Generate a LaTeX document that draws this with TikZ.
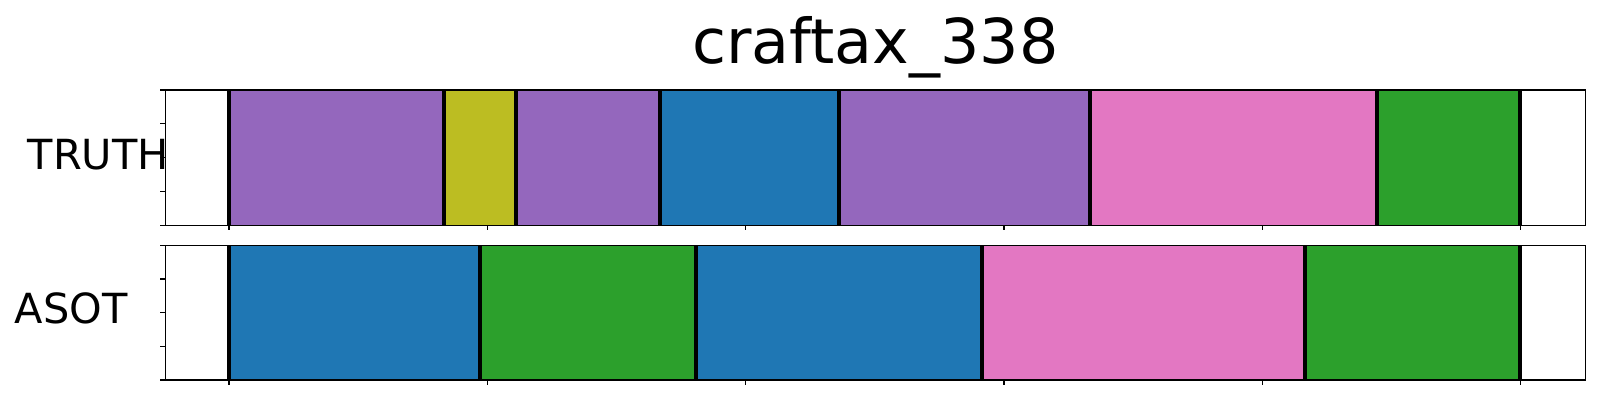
\documentclass[tikz,border=0pt]{standalone}
\usepackage{fontspec}
\setmainfont{DejaVu Sans}
\usetikzlibrary{positioning}

\definecolor{tabblue}{HTML}{1F77B4}
\definecolor{tabgreen}{HTML}{2CA02C}
\definecolor{tabpurple}{HTML}{9467BD}
\definecolor{tabolive}{HTML}{BCBD22}
\definecolor{tabpink}{HTML}{E377C2}

\begin{document}
\begin{tikzpicture}[x=0.01cm, y=-0.01cm,
                    frame/.style={draw=black, line width=0.35pt},
                    bound/.style={draw=black, line width=1.05pt},
                    tick/.style={draw=black, line width=0.3pt},
                    title node/.style={font=\fontsize{17.6}{20}\selectfont, inner sep=0pt, anchor=base},
                    row label/.style={font=\fontsize{11.8}{14}\selectfont, inner sep=0pt, anchor=base west}]

  \useasboundingbox (0,0) rectangle (1600,400);

  % truth segments
  \foreach \a/\b/\c in {229/444/tabpurple, 444/516/tabolive, 516/660/tabpurple,
                        660/839/tabblue, 839/1090/tabpurple, 1090/1377/tabpink,
                        1377/1520/tabgreen}
    \fill[\c] (\a,90) rectangle (\b,225.3);

  % asot segments
  \foreach \a/\b/\c in {229/480/tabblue, 480/696/tabgreen, 696/982/tabblue,
                        982/1305/tabpink, 1305/1520/tabgreen}
    \fill[\c] (\a,245.3) rectangle (\b,380);

  % boundaries
  \foreach \x in {229,444,516,660,839,1090,1377,1520}
    \draw[bound] (\x,90) -- (\x,225.3);
  \foreach \x in {229,480,696,982,1305,1520}
    \draw[bound] (\x,245.3) -- (\x,380);

  % frames
  \draw[frame] (165.3,90) rectangle (1585.7,225.3);
  \draw[frame] (165.3,245.3) rectangle (1585.7,380);

  % ticks
  \foreach \y in {90,123.8,157.7,191.5,225.3,245.3,279,312.7,346.3,380}
    \draw[tick] (160.3,\y) -- (165.3,\y);
  \foreach \x in {229,487.3,745.7,1004,1262.3,1520.7} {
    \draw[tick] (\x,225.3) -- (\x,230.3);
    \draw[tick] (\x,380) -- (\x,385);
  }

  \node[title node] (title) at (875.5,63) {craftax\_338};
  \node[row label] (truth) at (27,169) {TRUTH};
  \node[row label] (asot) at (14,323) {ASOT};
\end{tikzpicture}
\end{document}
